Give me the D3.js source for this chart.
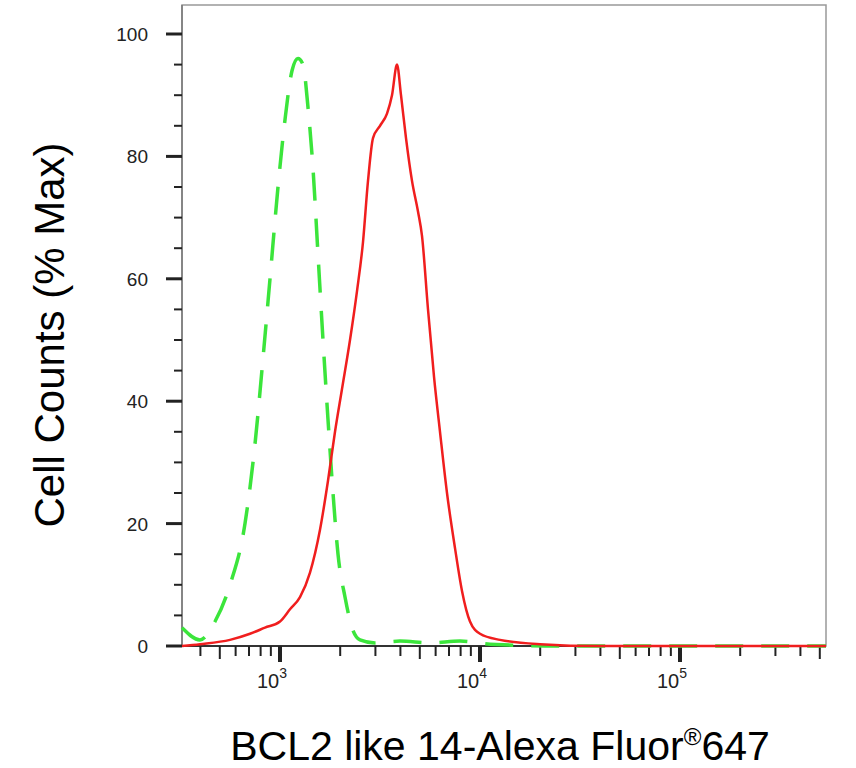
<!DOCTYPE html><html><head><script src="https://cdn.jsdelivr.net/npm/d3@7"></script>
<style>body{margin:0;background:#fff}text{font-family:"Liberation Sans",Arial,sans-serif}</style></head><body><svg id="c" width="856" height="768"></svg><script>
const greenLog=[2.51,2.60,2.675,2.75,2.825,2.875,2.915,2.95,2.99,3.025,3.06,3.09,3.115,3.14,3.165,3.19,3.215,3.24,3.265,3.29,3.325,3.36,3.40,3.475,3.60,3.75,3.90,4.05,4.40,5.73];
const greenVal=[3,1,4,10,20,33,47,60,75,86,94,96,95,88,78,64,50,37,25,15,8,3,1,0.5,0.8,0.5,0.8,0.3,0,0];
const redLog=[2.51,2.60,2.75,2.85,2.925,3.0,3.05,3.10,3.15,3.20,3.24,3.275,3.31,3.35,3.385,3.415,3.44,3.465,3.50,3.535,3.56,3.585,3.605,3.63,3.66,3.69,3.71,3.74,3.77,3.80,3.835,3.875,3.91,3.95,4.0,4.10,4.30,4.60,5.73];
const redVal=[0,0.3,1,2,3,4,6,8,12,19,27,35,42,50,58,66,76,83,85,87,90,95,90,83,76,71,67,55,44,35,25,16,9,4,2,1,0.3,0,0];
const yTicks=[0,20,40,60,80,100];
const xDecades=[3,4,5];
const svg=d3.select("#c");
const L=182,R=826,T=5,B=646;
const x=d3.scaleLinear().domain([2.51,5.73]).range([L,R]);
const y=d3.scaleLinear().domain([0,100]).range([B,34]);
svg.append("rect").attr("x",L).attr("y",T).attr("width",R-L).attr("height",B-T).attr("fill","none").attr("stroke","#999").attr("stroke-width",1.5);
svg.append("line").attr("x1",L).attr("x2",R).attr("y1",B).attr("y2",B).attr("stroke","#333").attr("stroke-width",2);
svg.append("line").attr("x1",L).attr("x2",L).attr("y1",T).attr("y2",B).attr("stroke","#777").attr("stroke-width",1.5);
const yMin=d3.range(0,101,5);
svg.selectAll(".ym").data(yMin).join("line").attr("x1",d=>d%20===0?L-16:L-8).attr("x2",L).attr("y1",d=>y(d)).attr("y2",d=>y(d)).attr("stroke","#222").attr("stroke-width",d=>d%20===0?3:2);
svg.selectAll(".yl").data(yTicks).join("text").attr("x",L-34).attr("y",d=>y(d)+7).attr("text-anchor","end").attr("font-size",19).attr("fill","#222").text(d=>d);
const xm=[];for(let e=2;e<=5;e++)for(let k=1;k<=9;k++){const v=e+Math.log10(k);if(v>=2.51&&v<=5.73)xm.push({v,k});}
svg.selectAll(".xm").data(xm).join("line").attr("x1",d=>x(d.v)).attr("x2",d=>x(d.v)).attr("y1",B).attr("y2",d=>B+(d.k===1?16:(d.k===5?13:10))).attr("stroke","#222").attr("stroke-width",d=>d.k===1?4:2);
const xl=svg.selectAll(".xl").data(xDecades).join("text").attr("x",d=>x(d)-8).attr("y",B+42).attr("text-anchor","middle").attr("font-size",20).attr("fill","#222");
xl.append("tspan").text("10");xl.append("tspan").attr("dy",-10).attr("font-size",14).text(d=>d);
const line=d3.line().x(d=>x(d[0])).y(d=>y(d[1])).curve(d3.curveMonotoneX);
svg.append("path").attr("d",line(d3.zip(greenLog,greenVal))).attr("fill","none").attr("stroke","#3be53b").attr("stroke-width",3.5).attr("stroke-dasharray","28,18");
svg.append("path").attr("d",line(d3.zip(redLog,redVal))).attr("fill","none").attr("stroke","#f01e1e").attr("stroke-width",2.5);
svg.append("text").attr("transform","translate(64,335) rotate(-90)").attr("text-anchor","middle").attr("font-size",42).attr("fill","#000").text("Cell Counts (% Max)");
const t=svg.append("text").attr("x",500).attr("y",760).attr("text-anchor","middle").attr("font-size",41).attr("fill","#000");
t.append("tspan").text("BCL2 like 14-Alexa Fluor");t.append("tspan").attr("dy",-15).attr("font-size",24).text("®");t.append("tspan").attr("dy",15).text("647");
</script></body></html>
